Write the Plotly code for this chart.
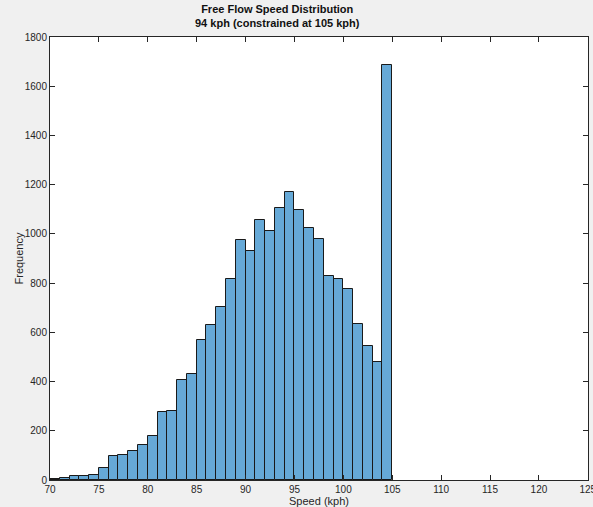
import plotly.graph_objects as go

# Histogram of free-flow speeds, 1 kph bins from 70 to 105 kph
bin_left = list(range(70, 105))
counts = [4, 7, 15, 15, 20, 49, 96, 100, 118, 141,
          179, 275, 279, 408, 430, 567, 629, 702, 815, 976,
          931, 1058, 1010, 1107, 1172, 1096, 1023, 978, 829, 815,
          775, 635, 544, 478, 1688]
bin_width = 1.0

x_ticks = list(range(70, 126, 5))
y_ticks = list(range(0, 1801, 200))

font_family = "Liberation Sans, Arial, Helvetica, sans-serif"
axis_color = "#262626"

fig = go.Figure(
    go.Bar(
        x=[b + bin_width / 2 for b in bin_left],
        y=counts,
        width=bin_width,
        marker=dict(color="#66a9d7", line=dict(color="#1a1a1a", width=1)),
        hoverinfo="x+y",
    )
)

axis_common = dict(
    showgrid=False,
    zeroline=False,
    showline=True,
    linecolor=axis_color,
    linewidth=1,
    mirror="ticks",
    ticks="inside",
    ticklen=5,
    tickcolor=axis_color,
    automargin=False,
    tickfont=dict(family=font_family, size=10, color=axis_color),
)

fig.update_xaxes(
    range=[70, 125.02],
    tickvals=x_ticks,
    ticklabeloverflow="allow",
    title=dict(text="Speed (kph)", font=dict(family=font_family, size=11, color=axis_color), standoff=2),
    **axis_common,
)
fig.update_yaxes(
    range=[0, 1800],
    tickvals=y_ticks,
    **axis_common,
)

fig.update_layout(
    width=593,
    height=507,
    margin=dict(l=50, r=5, t=37, b=27),
    paper_bgcolor="#f0f0f0",
    plot_bgcolor="#ffffff",
    showlegend=False,
    bargap=0,
    annotations=[
        dict(
            text="<b>Free Flow Speed Distribution<br>94 kph (constrained at 105 kph)</b>",
            font=dict(family=font_family, size=11, color="#111111"),
            xref="paper", yref="paper",
            x=0.422, y=1 + 6 / 443,
            xanchor="center", yanchor="bottom",
            showarrow=False,
        ),
        dict(
            text="Frequency",
            font=dict(family=font_family, size=11, color=axis_color),
            textangle=-90,
            xref="paper", yref="paper",
            x=-32 / 538, y=0.5,
            xanchor="center", yanchor="middle",
            showarrow=False,
        ),
    ],
)

fig.write_html("out.html")
